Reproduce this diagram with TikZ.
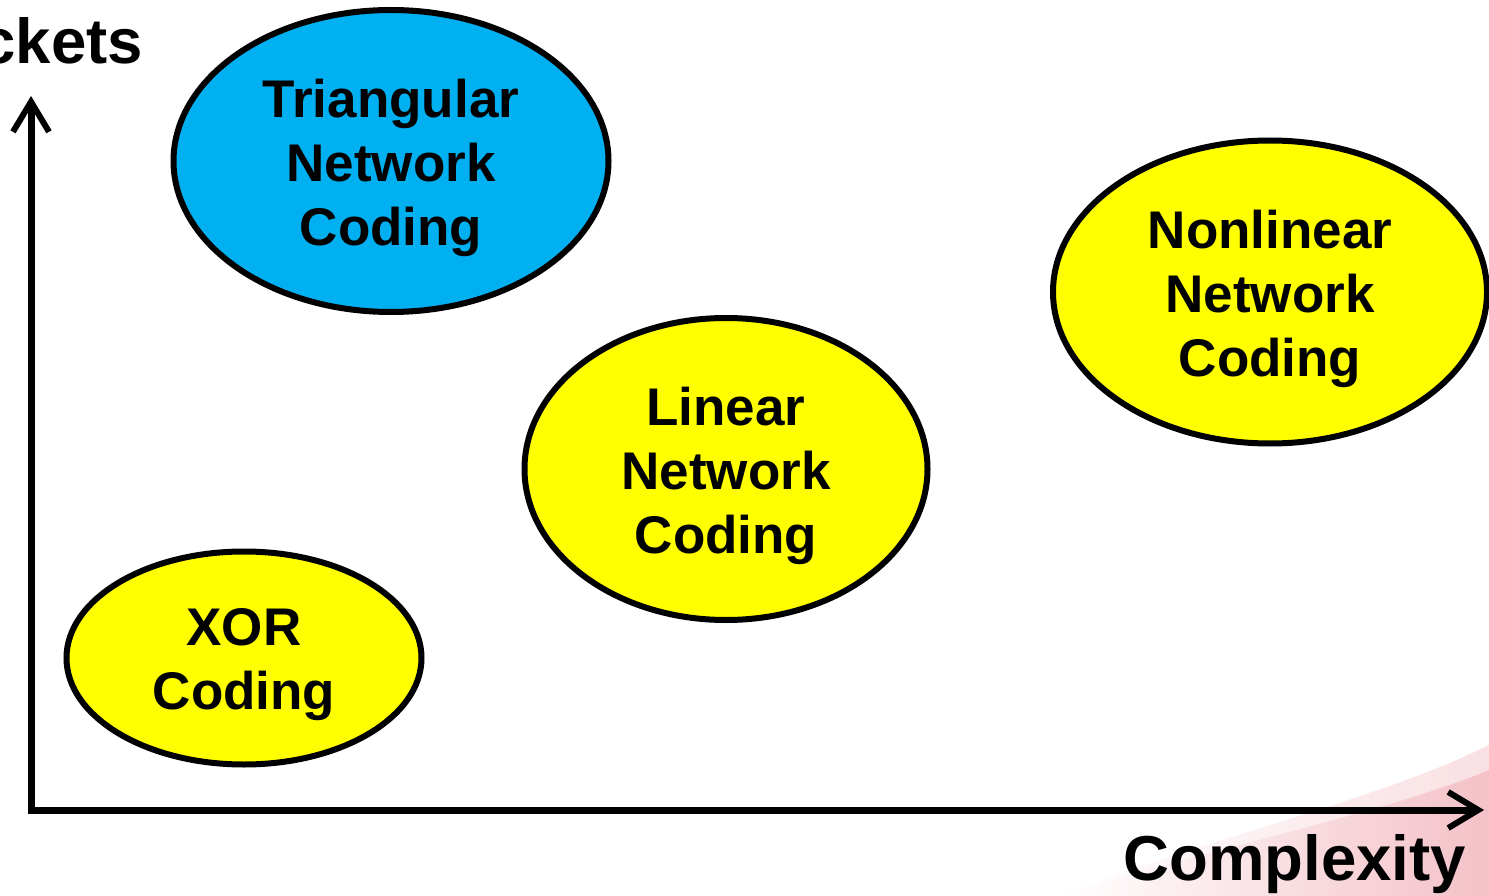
\documentclass[tikz,border=0pt]{standalone}
\usepackage{fontspec}
\setmainfont{Liberation Sans}
\usetikzlibrary{arrows.meta,shapes.geometric}
\definecolor{tncblue}{HTML}{00B0F0}
\definecolor{codeyellow}{HTML}{FFFF00}
\definecolor{swooshpink}{HTML}{EFA7B0}
\tikzset{
  scheme/.style={ellipse, draw=black, line width=6pt, inner sep=0pt},
  schemetext/.style={inner sep=0pt, align=center, yshift=-7pt,
    font=\fontsize{53}{64}\selectfont\bfseries},
  axis/.style={line width=7pt, line join=miter,
    arrows={Straight Barb[length=30pt,width=36pt,line width=6pt]-Straight Barb[length=30pt,width=36pt,line width=6pt]}},
  axislabel/.style={inner sep=0pt, font=\fontsize{63.5}{70}\selectfont\bfseries}
}
\begin{document}
\begin{tikzpicture}[x=1pt,y=-1pt]
\useasboundingbox (0,0) rectangle (1489,896);
\clip (0,0) rectangle (1489,896);
% soft pink swoosh of the slide background, lower right
\shade[left color=white, right color=swooshpink, opacity=0.7]
  (1060,896) .. controls (1200,840) and (1380,800) .. (1489,745)
  -- (1489,896) -- cycle;
\fill[white, opacity=0.5]
  (1060,896) .. controls (1200,850) and (1380,815) .. (1489,770)
  -- (1489,745) .. controls (1380,800) and (1200,840) .. (1060,896) -- cycle;
% axes
\coordinate (o) at (31,810);
\coordinate (ytip) at (31,96);
\coordinate (xtip) at (1484,810);
\draw[axis] (ytip) -- (o) -- (xtip);
\node[axislabel, anchor=base east] (ylab) at (143,64) {ckets};
\node[axislabel, anchor=base east] (xlab) at (1466,880) {Complexity};
% coding schemes
\node[scheme, fill=tncblue, minimum width=435pt, minimum height=302pt] (tri) at (391,161) {};
\node[schemetext] (tritext) at (tri.center) {Triangular\\Network\\Coding};
\node[scheme, fill=codeyellow, minimum width=434pt, minimum height=303pt] (nonlin) at (1270,292) {};
\node[schemetext] (nonlintext) at (nonlin.center) {Nonlinear\\Network\\Coding};
\node[scheme, fill=codeyellow, minimum width=403pt, minimum height=302pt] (lin) at (726,469) {};
\node[schemetext] (lintext) at (lin.center) {Linear\\Network\\Coding};
\node[scheme, fill=codeyellow, minimum width=355pt, minimum height=213pt] (xor) at (244,658) {};
\node[schemetext] (xortext) at (xor.center) {XOR\\Coding};
\end{tikzpicture}
\end{document}
